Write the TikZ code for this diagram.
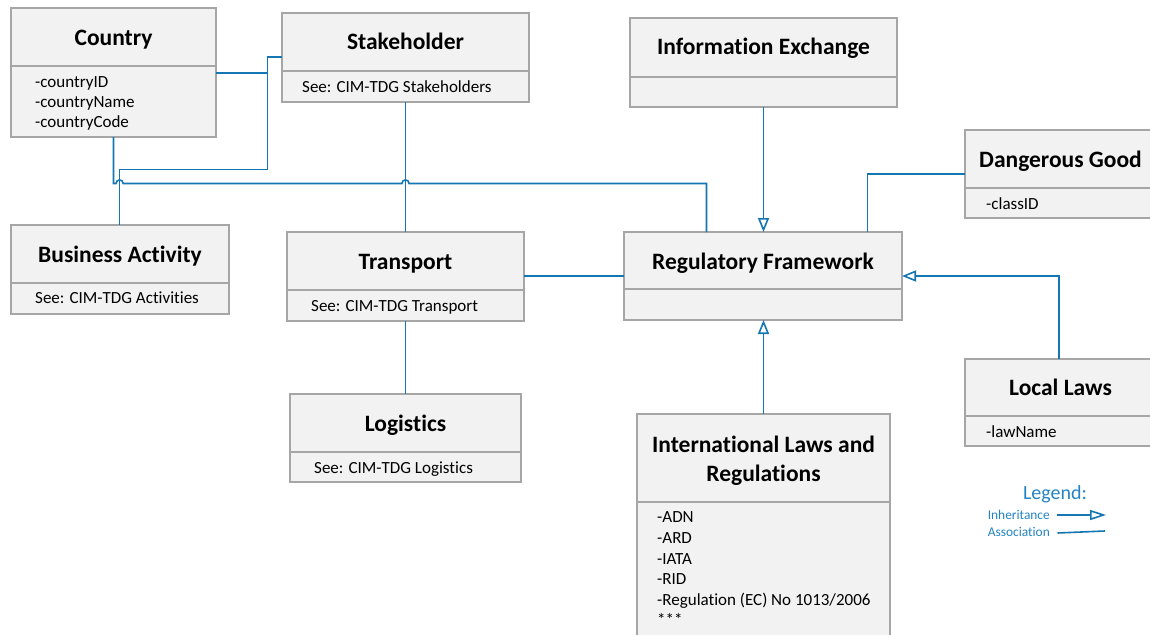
\documentclass[tikz,border=0pt]{standalone}
\usepackage{fontspec}
\setmainfont{Carlito}[Ligatures={NoCommon}]
\usetikzlibrary{arrows.meta,calc}
\definecolor{boxfill}{HTML}{F2F2F2}
\definecolor{boxline}{HTML}{A6A6A6}
\definecolor{conn}{RGB}{20,118,178}
\definecolor{legtext}{RGB}{36,132,194}
\tikzset{
  cls/.style={draw=boxline, fill=boxfill, line width=2.8pt, inner sep=0pt, outer sep=0pt, anchor=north west},
  divider/.style={draw=boxline, line width=2.8pt},
  ttl/.style={font=\fontsize{23.5}{29}\selectfont\bfseries, anchor=base, inner sep=0pt},
  itm/.style={font=\fontsize{17}{20.5}\selectfont, anchor=base west, inner sep=0pt},
  assoc/.style={draw=conn, line width=1.6pt},
  inherit/.style={assoc, -{Triangle[open, length=14pt, width=11pt, line width=1.6pt]}},
  legtxt/.style={text=legtext, inner sep=0pt},
}
\newcommand\umlclass[6]{%
  \node[cls, minimum width={(#4-#2)*1pt}, minimum height={(#5-#3)*1pt}] (#1) at (#2,#3) {};
  \draw[divider] (#2,#6) -- (#4,#6);
}
\begin{document}
\begin{tikzpicture}[x=1pt,y=-1pt]
\useasboundingbox[fill=white] (0,0) rectangle (1150,634);

% classes
\umlclass{country}{11}{8}{216}{137}{66}
\node[ttl] (countryT) at (113.5,45.5) {Country};
\node[itm] (countryA) at (35,87) {-countryID};
\node[itm] (countryB) at (35,107) {-countryName};
\node[itm] (countryC) at (35,127) {-countryCode};

\umlclass{stake}{282}{13}{529}{102}{71}
\node[ttl] (stakeT) at (405.5,49.5) {Stakeholder};
\node[itm] (stakeA) at (302,92) {See: CIM-TDG Stakeholders};

\umlclass{ie}{630}{18}{897}{107}{77}
\node[ttl] (ieT) at (763.5,55) {Information Exchange};

\umlclass{dg}{965}{130}{1156}{218}{188}
\node[ttl] (dgT) at (1060.5,167.5) {Dangerous Good};
\node[itm] (dgA) at (986,209) {-classID};

\umlclass{ba}{11}{225}{229}{314}{283}
\node[ttl] (baT) at (120,262.5) {Business Activity};
\node[itm] (baA) at (35,303) {See: CIM-TDG Activities};

\umlclass{transport}{287}{232}{524}{321}{290}
\node[ttl] (transportT) at (405.5,269.5) {Transport};
\node[itm] (transportA) at (311,311) {See: CIM-TDG Transport};

\umlclass{rf}{624}{232}{902}{320}{289}
\node[ttl] (rfT) at (763,269.5) {Regulatory Framework};

\umlclass{ll}{965}{359}{1156}{446}{416}
\node[ttl] (llT) at (1060.5,395.5) {Local Laws};
\node[itm] (llA) at (986,437) {-lawName};

\umlclass{logistics}{290}{394}{521}{482}{452}
\node[ttl] (logisticsT) at (405.5,431.5) {Logistics};
\node[itm] (logisticsA) at (314,473) {See: CIM-TDG Logistics};

\umlclass{il}{637}{414}{890}{645}{502}
\node[ttl] (ilT1) at (763.5,452.5) {International Laws and};
\node[ttl] (ilT2) at (763.5,481.5) {Regulations};
\node[itm] (ilA) at (657,522) {-ADN};
\node[itm] (ilB) at (657,543) {-ARD};
\node[itm] (ilC) at (657,564) {-IATA};
\node[itm] (ilD) at (657,584.5) {-RID};
\node[itm] (ilE) at (657,605) {-Regulation (EC) No 1013/2006};
\node[itm] (ilF) at (657,625.5) {***};

% helper coordinates
\coordinate (j1) at (113.5,183.5);
\coordinate (j2) at (706.5,183.5);
\coordinate (k1) at (119.6,169.3);
\coordinate (k2) at (267.3,169.3);
\coordinate (k3) at (267.3,57.3);
\coordinate (k4) at (267.3,72.7);
\coordinate (t1) at (0,276);
\coordinate (d1) at (867.6,174);
\coordinate (l1) at (1059,276);

% connectors
\draw[assoc] (ba.north -| k1) -- (k1) -- (k2) -- (k3) -- (stake.west |- k3);
\draw[assoc] (country.east |- k4) -- (k4);
\draw[assoc] (country.south -| j1) -- (j1)
  -- ($(k1 |- j1)+(-3.6,0)$) arc[start angle=180, end angle=360, radius=3.6]
  -- ($(stake.south |- j1)+(-3.6,0)$) arc[start angle=180, end angle=360, radius=3.6]
  -- (j2) -- (rf.north -| j2);
\draw[assoc] (stake.south) -- (transport.north);
\draw[assoc] (transport.south) -- (logistics.north);
\draw[assoc] (transport.east |- t1) -- (rf.west |- t1);
\draw[inherit] (ie.south) -- (ie.south |- rf.north);
\draw[assoc] (dg.west |- d1) -- (d1) -- (rf.north -| d1);
\draw[inherit] (ll.north -| l1) -- (l1) -- (rf.east |- l1);
\draw[inherit] (il.north) -- (il.north |- rf.south);

% legend
\node[legtxt, font=\fontsize{20}{24}\selectfont] (legT) at (1055,494) {Legend:};
\node[legtxt, font=\fontsize{13.4}{16}\selectfont, anchor=east] (legI) at (1050,515) {Inheritance};
\node[legtxt, font=\fontsize{13.4}{16}\selectfont, anchor=east] (legA) at (1050,532) {Association};
\coordinate (li1) at (1057,515);
\coordinate (li2) at (1106,515);
\coordinate (la1) at (1057.5,533);
\coordinate (la2) at (1105,531);
\draw[assoc, -{Triangle[open, length=16pt, width=10pt, line width=1.6pt]}] (li1) -- (li2);
\draw[assoc] (la1) -- (la2);
\end{tikzpicture}
\end{document}
